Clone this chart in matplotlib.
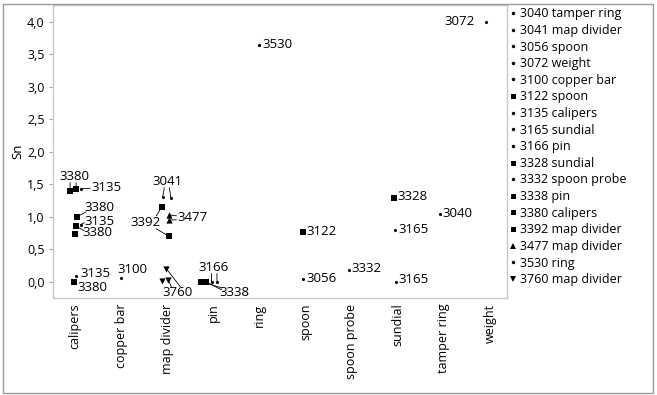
import matplotlib
matplotlib.use("Agg")
import matplotlib.pyplot as plt
from matplotlib.lines import Line2D
from matplotlib.patches import Rectangle
from matplotlib.ticker import FuncFormatter

plt.rcParams['font.family'] = ['Open Sans', 'DejaVu Sans']

categories = ["calipers", "copper bar", "map divider", "pin", "ring", "spoon",
              "spoon probe", "sundial", "tamper ring", "weight"]

# each measured point: sample id, category, Sn value, horizontal jitter within category
point_id = [3380, 3380, 3135, 3380, 3135, 3380, 3380, 3135, 3380,
            3100,
            3041, 3041, 3392, 3392, 3477, 3477, 3760, 3760, 3760,
            3338, 3338, 3166, 3166,
            3530,
            3122, 3056,
            3332,
            3328, 3165, 3165,
            3040,
            3072]
point_cat = ["calipers"] * 9 + ["copper bar"] + ["map divider"] * 9 + ["pin"] * 4 + \
            ["ring"] + ["spoon"] * 2 + ["spoon probe"] + ["sundial"] * 3 + ["tamper ring"] + ["weight"]
point_sn = [1.40, 1.43, 1.43, 1.00, 0.88, 0.86, 0.74, 0.09, 0.00,
            0.06,
            1.31, 1.29, 1.15, 0.70, 1.03, 0.95, 0.20, 0.01, 0.03,
            0.00, 0.00, 0.00, 0.00,
            3.65,
            0.77, 0.05,
            0.18,
            1.29, 0.79, 0.00,
            1.05,
            4.00]
point_jitter = [-0.11, 0.02, 0.12, 0.04, 0.12, 0.02, -0.01, 0.02, -0.02,
                0.00,
                -0.10, 0.08, -0.12, 0.03, 0.04, 0.04, -0.02, -0.11, 0.02,
                -0.26, -0.16, -0.04, 0.08,
                0.00,
                -0.06, -0.05,
                -0.06,
                -0.08, -0.06, -0.04,
                -0.09,
                -0.09]

legend_ids = [3040, 3041, 3056, 3072, 3100, 3122, 3135, 3165, 3166, 3328,
              3332, 3338, 3380, 3392, 3477, 3530, 3760]
legend_names = ["tamper ring", "map divider", "spoon", "weight", "copper bar", "spoon",
                "calipers", "sundial", "pin", "sundial", "spoon probe", "pin",
                "calipers", "map divider", "map divider", "ring", "map divider"]

marker_of = {i: '.' for i in legend_ids}
for i in (3122, 3328, 3338, 3380, 3392):
    marker_of[i] = 's'
marker_of[3477] = '^'
marker_of[3760] = 'v'
size_of = {'.': 5, 's': 14, '^': 20, 'v': 20}

W, H = 657, 395
fig = plt.figure(figsize=(W / 100, H / 100), dpi=100)
ax = fig.add_axes([53 / W, (H - 298) / H, 454 / W, 293 / H])

cat_index = {c: i for i, c in enumerate(categories)}
xs = [cat_index[c] + j for c, j in zip(point_cat, point_jitter)]

for m in ('.', 's', '^', 'v'):
    px = [x for x, pid in zip(xs, point_id) if marker_of[pid] == m]
    py = [y for y, pid in zip(point_sn, point_id) if marker_of[pid] == m]
    mk = 'o' if m == '.' else m
    ax.scatter(px, py, marker=mk, s=size_of[m], color='black', linewidths=0, zorder=3)

ax.set_xlim(-0.48, 9.37)
ax.set_ylim(-0.25, 4.26)
ax.set_xticks(range(len(categories)))
ax.set_xticklabels(categories, rotation=90, fontsize=9)
ax.set_yticks([0, 0.5, 1, 1.5, 2, 2.5, 3, 3.5, 4])
ax.yaxis.set_major_formatter(FuncFormatter(lambda v, p: f"{v:.1f}".replace('.', ',')))
ax.tick_params(axis='y', labelsize=9, length=3, color='#aaaaaa', pad=3)
ax.tick_params(axis='x', length=0, pad=4)
for s in ax.spines.values():
    s.set_color('#c8c8c8')
    s.set_linewidth(1)
ax.set_ylabel("Sn", fontsize=9.5, labelpad=2)


def px2d(px, py):
    return ((px - 75) / 46.0, (282 - py) / 65.0)


# label text, text anchor position (pixels), alignment, leader lines: (point index, line start in pixels)
labels = [
    ("3380", (74, 177), 'center', [(0, (70, 183)), (1, (76, 183))]),
    ("3135", (91, 188), 'left', [(2, (90, 188.5))]),
    ("3380", (84, 208), 'left', [(3, (86, 212))]),
    ("3135", (84, 221.5), 'left', [(4, (84, 223))]),
    ("3380", (82, 233), 'left', [(5, (84, 231))]),
    ("3135", (80, 274), 'left', []),
    ("3380", (77.5, 287.5), 'left', []),
    ("3100", (117, 270), 'left', []),
    ("3041", (167.5, 182), 'center', [(10, (164, 188)), (11, (169, 188))]),
    ("3392", (130, 222.5), 'left', [(12, (156, 216)), (13, (156, 229))]),
    ("3477", (177, 218), 'left', [(14, (176, 216)), (15, (176, 220))]),
    ("3760", (162, 292.5), 'left', [(16, (180, 287)), (18, (171, 287))]),
    ("3166", (213.5, 268), 'center', [(21, (211, 274)), (22, (216.5, 274))]),
    ("3338", (219, 292.5), 'left', [(19, (221, 288)), (20, (221, 290))]),
    ("3530", (262, 45), 'left', []),
    ("3122", (305.5, 231.5), 'left', []),
    ("3056", (305.5, 278.5), 'left', []),
    ("3332", (351, 268.5), 'left', []),
    ("3328", (396.5, 197), 'left', []),
    ("3165", (397.5, 230), 'left', []),
    ("3165", (397.5, 280), 'left', []),
    ("3040", (441.5, 213.5), 'left', []),
    ("3072", (473.5, 22), 'right', []),
]

for text, (tx, ty), ha, links in labels:
    pos = px2d(tx, ty)
    ax.text(pos[0], pos[1], text, ha=ha, va='center', fontsize=9.5, zorder=4)
    for k, (sx, sy) in links:
        start = px2d(sx, sy)
        ax.plot([start[0], xs[k]], [start[1], point_sn[k]], color='black', lw=0.6, zorder=2)

handles = [Line2D([], [], linestyle='none', marker=('o' if marker_of[i] == '.' else marker_of[i]),
                  markersize=(2.5 if marker_of[i] == '.' else 3.6 if marker_of[i] == 's' else 4.5),
                  color='black', markeredgewidth=0) for i in legend_ids]
names = [f"{i} {n}" for i, n in zip(legend_ids, legend_names)]
fig.legend(handles, names, loc='upper left', bbox_to_anchor=(509 / W, (H - 6) / H),
           frameon=False, fontsize=9, borderaxespad=0, borderpad=0.1,
           handlelength=0.5, handletextpad=0.25, labelspacing=0.29)

fig.add_artist(Rectangle((3 / W, 2 / H), 650 / W, 389 / H, transform=fig.transFigure,
                         fill=False, edgecolor='#9a9a9a', lw=1))

fig.savefig("out.png", dpi=100)
